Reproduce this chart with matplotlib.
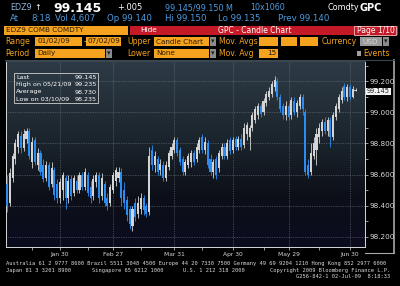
import matplotlib
matplotlib.use("Agg")
import matplotlib.pyplot as plt
from matplotlib.colors import LinearSegmentedColormap
from matplotlib.patches import Rectangle
import numpy as np

# trading-day index of the month-end labels
tick_pos = [19, 38, 60, 81, 101, 123]
tick_labels = ["Jan 30", "Feb 27", "Mar 31", "Apr 30", "May 29", "Jun 30"]
minor_pos = [9, 29, 48, 70, 92, 112]
price_ticks = [98.2, 98.4, 98.6, 98.8, 99.0, 99.2]
price_minor = [98.3, 98.5, 98.7, 98.9, 99.1, 99.3]

# daily candles 01/02/09 - 07/02/09
opens = [98.54, 98.42, 98.58, 98.70, 98.78, 98.85, 98.77, 98.83, 98.88, 98.68,
         98.82, 98.66, 98.74, 98.66, 98.58, 98.66, 98.54, 98.63, 98.54, 98.45,
         98.50, 98.58, 98.45, 98.57, 98.48, 98.56, 98.50, 98.60, 98.52, 98.60,
         98.52, 98.46, 98.55, 98.60, 98.46, 98.54, 98.45, 98.42, 98.50, 98.56,
         98.58, 98.62, 98.50, 98.44, 98.38, 98.27, 98.42, 98.35, 98.38, 98.45,
         98.40, 98.36, 98.76, 98.66, 98.70, 98.63, 98.66, 98.58, 98.65, 98.72,
         98.76, 98.82, 98.76, 98.70, 98.62, 98.66, 98.68, 98.74, 98.70, 98.76,
         98.84, 98.76, 98.80, 98.70, 98.62, 98.70, 98.64, 98.72, 98.78, 98.72,
         98.82, 98.76, 98.83, 98.78, 98.83, 98.79, 98.86, 98.84, 98.90, 98.95,
         98.98, 99.04, 99.00, 99.06, 99.10, 99.12, 99.16, 99.20, 99.10, 99.04,
         98.98, 99.04, 98.98, 99.07, 99.00, 99.04, 99.10, 99.00, 98.66, 98.62,
         98.72, 98.76, 98.84, 98.88, 98.94, 98.88, 98.95, 98.84, 98.97, 99.02,
         99.08, 99.17, 99.10, 99.16, 99.10, 99.14]
highs = [98.60, 98.64, 98.74, 98.83, 98.88, 98.88, 98.89, 98.90, 98.90, 98.84,
         98.84, 98.77, 98.76, 98.70, 98.69, 98.68, 98.68, 98.65, 98.57, 98.58,
         98.62, 98.60, 98.60, 98.60, 98.60, 98.60, 98.62, 98.62, 98.64, 98.62,
         98.56, 98.60, 98.62, 98.62, 98.61, 98.56, 98.48, 98.54, 98.62, 98.65,
         98.65, 98.64, 98.55, 98.46, 98.40, 98.40, 98.45, 98.46, 98.48, 98.47,
         98.42, 98.78, 98.79, 98.75, 98.72, 98.70, 98.69, 98.69, 98.76, 98.80,
         98.84, 98.84, 98.78, 98.72, 98.70, 98.74, 98.76, 98.76, 98.80, 98.84,
         98.86, 98.84, 98.82, 98.73, 98.70, 98.72, 98.76, 98.80, 98.80, 98.83,
         98.84, 98.84, 98.85, 98.85, 98.86, 98.93, 98.94, 98.92, 99.00, 99.04,
         99.06, 99.06, 99.09, 99.14, 99.16, 99.20, 99.235, 99.22, 99.12, 99.06,
         99.07, 99.06, 99.10, 99.10, 99.08, 99.12, 99.12, 99.02, 98.70, 98.80,
         98.84, 98.90, 98.93, 98.96, 98.97, 98.97, 98.97, 99.00, 99.06, 99.12,
         99.16, 99.19, 99.18, 99.18, 99.17, 99.155]
lows = [98.36, 98.40, 98.55, 98.67, 98.74, 98.74, 98.75, 98.80, 98.70, 98.64,
        98.66, 98.63, 98.60, 98.55, 98.56, 98.50, 98.52, 98.44, 98.42, 98.42,
        98.44, 98.38, 98.42, 98.44, 98.46, 98.48, 98.48, 98.50, 98.50, 98.46,
        98.42, 98.44, 98.52, 98.42, 98.44, 98.40, 98.37, 98.40, 98.48, 98.53,
        98.55, 98.40, 98.38, 98.30, 98.25, 98.235, 98.30, 98.32, 98.35, 98.34,
        98.33, 98.34, 98.63, 98.62, 98.60, 98.60, 98.56, 98.56, 98.63, 98.70,
        98.74, 98.72, 98.66, 98.60, 98.60, 98.64, 98.65, 98.66, 98.68, 98.74,
        98.74, 98.73, 98.64, 98.60, 98.58, 98.57, 98.62, 98.70, 98.70, 98.70,
        98.73, 98.74, 98.76, 98.76, 98.76, 98.77, 98.82, 98.76, 98.88, 98.93,
        98.96, 98.97, 98.98, 99.04, 99.08, 99.10, 99.14, 99.08, 99.00, 98.96,
        98.95, 98.95, 98.96, 98.98, 98.97, 99.02, 98.98, 98.60, 98.58, 98.60,
        98.70, 98.66, 98.80, 98.85, 98.86, 98.85, 98.78, 98.82, 98.95, 99.00,
        99.06, 99.08, 99.07, 99.08, 99.09, 99.135]
closes = [98.40, 98.61, 98.72, 98.80, 98.86, 98.77, 98.86, 98.88, 98.72, 98.81,
          98.68, 98.74, 98.62, 98.57, 98.66, 98.52, 98.64, 98.47, 98.45, 98.55,
          98.60, 98.45, 98.56, 98.46, 98.58, 98.50, 98.60, 98.52, 98.62, 98.48,
          98.45, 98.57, 98.60, 98.45, 98.58, 98.42, 98.40, 98.52, 98.60, 98.63,
          98.62, 98.45, 98.42, 98.34, 98.28, 98.38, 98.33, 98.42, 98.45, 98.37,
          98.35, 98.72, 98.66, 98.72, 98.62, 98.67, 98.58, 98.66, 98.74, 98.78,
          98.82, 98.74, 98.68, 98.62, 98.68, 98.72, 98.74, 98.68, 98.78, 98.82,
          98.76, 98.81, 98.66, 98.62, 98.68, 98.60, 98.74, 98.78, 98.72, 98.80,
          98.75, 98.82, 98.78, 98.83, 98.78, 98.90, 98.92, 98.90, 98.98, 99.02,
          99.04, 98.99, 99.07, 99.12, 99.14, 99.18, 99.21, 99.10, 99.02, 98.98,
          99.04, 98.97, 99.08, 99.00, 99.06, 99.10, 99.02, 98.62, 98.60, 98.74,
          98.80, 98.86, 98.90, 98.94, 98.88, 98.95, 98.84, 98.98, 99.04, 99.10,
          99.14, 99.10, 99.16, 99.10, 99.15, 99.145]

W, H = 400, 286
ORANGE = "#f5a21e"
BLUE_TXT = "#4d9be0"
DARK = "#2a1a00"

fig = plt.figure(figsize=(4, 2.86), dpi=100, facecolor="black")

# full-figure axes in pixel coordinates for header / footer
bg = fig.add_axes([0, 0, 1, 1], zorder=0)
bg.set_xlim(0, W)
bg.set_ylim(H, 0)
bg.axis("off")


def txt(a, x, y, s, color="white", size=6, weight="normal", ha="left", family="DejaVu Sans"):
    a.text(x, y, s, color=color, fontsize=size, fontweight=weight, ha=ha, va="center", family=family)


def box(a, x0, y0, x1, y1, fc, ec="none", lw=0.5):
    a.add_patch(Rectangle((x0, y0), x1 - x0, y1 - y0, facecolor=fc, edgecolor=ec, lw=lw))


# quote lines
txt(bg, 10, 8, "EDZ9", "#8fb3d6", 5.8)
txt(bg, 34, 8, "\u2191", "white", 5.8)
txt(bg, 53, 8.5, "99.145", "white", 9, "bold")
txt(bg, 117, 8, "+.005", "white", 6)
txt(bg, 165, 8, "99.145/99.150 M", BLUE_TXT, 5.8)
txt(bg, 250, 8, "10x1060", BLUE_TXT, 5.8)
txt(bg, 359, 8, "Comdty", "white", 5.8, ha="right")
txt(bg, 359, 8, "GPC", "white", 7, "bold")
txt(bg, 10, 18.5, "At", BLUE_TXT, 6.2)
txt(bg, 31, 18.5, "8:18", BLUE_TXT, 6.2)
txt(bg, 55, 18.5, "Vol 4,607", BLUE_TXT, 6.2)
txt(bg, 107, 18.5, "Op 99.140", BLUE_TXT, 6.2)
txt(bg, 165, 18.5, "Hi 99.150", BLUE_TXT, 6.2)
txt(bg, 218, 18.5, "Lo 99.135", BLUE_TXT, 6.2)
txt(bg, 278, 18.5, "Prev 99.140", BLUE_TXT, 6.2)

# title bars
box(bg, 4, 26, 128, 35, ORANGE)
txt(bg, 6, 30.5, "EDZ9 COMB COMDTY", DARK, 5.2)
box(bg, 130, 26, 398, 35, "#c41a28")
txt(bg, 140, 30.5, "Hide", "white", 5.3)
txt(bg, 218, 30.5, "GPC - Candle Chart", "white", 5.5)
box(bg, 354, 26.3, 396, 34.7, "#c41a28", "#f2b8b8", 0.6)
txt(bg, 357, 30.5, "Page 1/10", "white", 5.5)


def dropdown(x, y0, y1):
    box(bg, x, y0, x + 6, y1, "#8c8c8c")
    txt(bg, x + 3, (y0 + y1) / 2, "\u25be", "#202020", 5, ha="center")


# option rows
r1, r2 = 41.5, 53
txt(bg, 5, r1, "Range", ORANGE, 5.6)
box(bg, 35, 37, 82, 46, ORANGE)
txt(bg, 38, r1, "01/02/09", DARK, 5.2)
txt(bg, 83.2, r1, "-", "white", 5.4)
box(bg, 86, 37, 121, 46, ORANGE)
txt(bg, 87.5, r1, "07/02/09", DARK, 5.2)
txt(bg, 127, r1, "Upper", ORANGE, 5.6)
box(bg, 154, 37, 209, 46, ORANGE)
txt(bg, 156, r1, "Candle Chart", DARK, 5.2)
dropdown(210, 37, 46)
txt(bg, 219, r1, "Mov. Avgs", ORANGE, 5.6)
box(bg, 259, 37, 278, 46, ORANGE)
box(bg, 281, 37, 297, 46, ORANGE)
box(bg, 300, 37, 318, 46, ORANGE)
txt(bg, 322, r1, "Currency", ORANGE, 5.6)
box(bg, 360, 37, 382, 46, "#9a9a9a")
txt(bg, 362, r1, "USD", "#d8d8d8", 5.2)
dropdown(383, 37, 46)

txt(bg, 5, r2, "Period", ORANGE, 5.6)
box(bg, 35, 48.5, 105, 57.5, ORANGE)
txt(bg, 37, r2, "Daily", DARK, 5.2)
dropdown(106, 48.5, 57.5)
txt(bg, 127, r2, "Lower", ORANGE, 5.6)
box(bg, 154, 48.5, 209, 57.5, ORANGE)
txt(bg, 156, r2, "None", DARK, 5.2)
dropdown(210, 48.5, 57.5)
txt(bg, 219, r2, "Mov. Avg", ORANGE, 5.6)
box(bg, 259, 48.5, 278, 57.5, ORANGE)
txt(bg, 276, r2, "15", DARK, 5.2, ha="right")
box(bg, 357, 50.5, 361, 55.5, "#a0a0a0")
txt(bg, 363, r2, "Events", ORANGE, 5.6)

# frame around the chart / price scale
bg.plot([394, 394], [60, 253], color="#a8a8a8", lw=1.2)
bg.plot([365, 394], [253, 253], color="#a8a8a8", lw=0.8)
bg.plot([5, 394], [60, 60], color="#3a4650", lw=0.8)

# footer
foot = "#d8d8d8"
txt(bg, 6, 264, "Australia 61 2 9777 8600 Brazil 5511 3048 4500 Europe 44 20 7330 7500 "
    "Germany 49 69 9204 1210 Hong Kong 852 2977 6000", foot, 3.9, family="DejaVu Sans Mono")
txt(bg, 6, 270.5, "Japan 81 3 3201 8900", foot, 3.9, family="DejaVu Sans Mono")
txt(bg, 92, 270.5, "Singapore 65 6212 1000", foot, 3.9, family="DejaVu Sans Mono")
txt(bg, 183, 270.5, "U.S. 1 212 318 2000", foot, 3.9, family="DejaVu Sans Mono")
txt(bg, 390, 270.5, "Copyright 2009 Bloomberg Finance L.P.", foot, 3.9, ha="right",
    family="DejaVu Sans Mono")
txt(bg, 390, 276.5, "G256-842-1 02-Jul-09  8:18:33", foot, 3.9, ha="right",
    family="DejaVu Sans Mono")

# candle chart
ax = fig.add_axes([6 / W, 1 - 247 / H, (365 - 6) / W, (247 - 61) / H], zorder=1)
x0, x1 = -0.36, 128.4
y0, y1 = 98.135, 99.33
ax.set_xlim(x0, x1)
ax.set_ylim(y0, y1)

cm = LinearSegmentedColormap.from_list(
    "bbg", [(0, "#2e3b46"), (0.45, "#1a232b"), (0.72, "#0d1018"), (1, "#0b0b1f")])
ax.imshow(np.linspace(0, 1, 256).reshape(-1, 1), extent=[x0, x1, y0, y1],
          aspect="auto", cmap=cm, origin="upper", zorder=0)

o = np.array(opens)
h = np.array(highs)
l = np.array(lows)
c = np.array(closes)
idx = np.arange(len(c))
cols = np.where(c >= o, "#d4d4d4", "#2b8df2")
ax.vlines(idx, l, h, colors=cols, lw=0.6, zorder=3)
ax.bar(idx, np.maximum(np.abs(c - o), 0.006), bottom=np.minimum(o, c), width=0.75,
       color=cols, lw=0, zorder=4)

ax.yaxis.tick_right()
ax.set_yticks(price_ticks)
ax.set_yticklabels([f"{v:.3f}" for v in price_ticks])
ax.set_yticks(price_minor, minor=True)
ax.set_xticks(tick_pos)
ax.set_xticklabels(tick_labels)
ax.set_xticks(minor_pos, minor=True)
ax.grid(True, which="major", color="#6c7782", ls=(0, (1, 1.5)), lw=0.5, zorder=1)
ax.tick_params(axis="y", which="both", colors="#d8d8d8", labelsize=5.2, length=2.5,
               width=0.5, pad=1)
ax.tick_params(axis="x", which="both", colors="#d8d8d8", labelsize=4.3, length=1.8,
               width=0.5, pad=1.5)
for side in ["left", "bottom", "right"]:
    ax.spines[side].set_color("#d8d8d8")
    ax.spines[side].set_linewidth(0.7)
ax.spines["top"].set_color("#3a4650")

# overlay: summary box and last-price tag
ov = fig.add_axes([0, 0, 1, 1], zorder=2)
ov.set_xlim(0, W)
ov.set_ylim(H, 0)
ov.axis("off")
box(ov, 14, 73.3, 98.3, 103, "none", "#d0d0d0", 0.6)
rows = [("Last", "99.145"), ("High on 05/21/09", "99.235"),
        ("Average", "98.730"), ("Low on 03/10/09", "98.235")]
for k, (name, val) in enumerate(rows):
    yy = 77.8 + k * 7.1
    txt(ov, 16, yy, name, "white", 4.6)
    txt(ov, 96.7, yy, val, "white", 4.6, ha="right")
box(ov, 366, 87.5, 391, 95, "#f0f0f0")
txt(ov, 378.5, 91.3, "99.145", "#202020", 4.8, ha="center")

fig.savefig("out.png", dpi=100, facecolor="black")
